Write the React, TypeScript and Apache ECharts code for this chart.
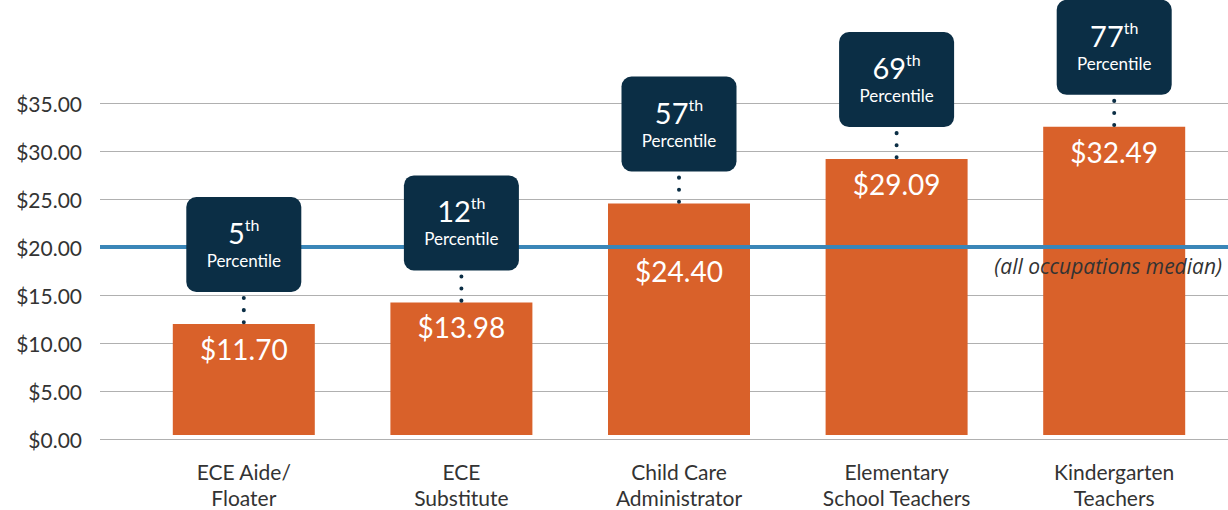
import React, { useEffect, useRef } from "react";
import * as echarts from "echarts";

const categories = [
  "ECE Aide/\nFloater",
  "ECE\nSubstitute",
  "Child Care\nAdministrator",
  "Elementary\nSchool Teachers",
  "Kindergarten\nTeachers",
];
const wages = [11.7, 13.98, 24.4, 29.09, 32.49];
const percentiles = ["5", "12", "57", "69", "77"];
const medianWage = 20;
const yTicks = { min: 0, max: 35, interval: 5 };

const FONT = "Lato, 'Open Sans', sans-serif";
const NAVY = "#0b2e45";
const ORANGE = "#d9612a";
const BLUE = "#3a86b8";
const TEXT = "#333333";

const GRID_TOP = 103;
const GRID_BOTTOM = 71;
const CHART_H = 510;
const PX_PER_UNIT = (CHART_H - GRID_TOP - GRID_BOTTOM) / (yTicks.max - yTicks.min);

export default function App() {
  const ref = useRef<HTMLDivElement>(null);
  useEffect(() => {
    if (!ref.current) return;
    const chart = echarts.init(ref.current, undefined, { renderer: "svg" });
    const BOX_W = 115;
    const BOX_H = 95;
    const GAP = 32;
    const barData = wages.map((w) => {
      const aboveMedianPx = (w - medianWage) * PX_PER_UNIT;
      // push label below the median line when it would overlap it
      if (w > medianWage && aboveMedianPx < 55) {
        return { value: w, label: { offset: [0, aboveMedianPx] } };
      }
      return { value: w };
    });
    chart.setOption({
      animation: false,
      textStyle: { fontFamily: FONT },
      grid: [
        { left: 100, right: 0, top: GRID_TOP, bottom: GRID_BOTTOM },
        { left: 135, right: 5, top: GRID_TOP, bottom: GRID_BOTTOM },
      ],
      xAxis: [
        { type: "value", gridIndex: 0, show: false, min: 0, max: 1 },
        {
          type: "category",
          gridIndex: 1,
          data: categories,
          axisLine: { show: false },
          axisTick: { show: false },
          axisLabel: {
            color: TEXT,
            fontSize: 21,
            lineHeight: 26,
            margin: 23,
            fontFamily: FONT,
          },
        },
      ],
      yAxis: [
        {
          type: "value",
          gridIndex: 0,
          min: yTicks.min,
          max: yTicks.max,
          interval: yTicks.interval,
          axisLine: { show: false },
          axisTick: { show: false },
          axisLabel: {
            color: TEXT,
            fontSize: 21,
            margin: 18,
            fontFamily: FONT,
            formatter: (v: number) => "$" + v.toFixed(2),
          },
          splitLine: { lineStyle: { color: "#b0b0b0", width: 1 } },
        },
        {
          type: "value",
          gridIndex: 1,
          min: yTicks.min,
          max: yTicks.max,
          interval: yTicks.interval,
          show: false,
        },
      ],
      series: [
        {
          type: "bar",
          xAxisIndex: 1,
          yAxisIndex: 1,
          data: barData,
          barWidth: 142,
          itemStyle: { color: ORANGE },
          label: {
            show: true,
            position: "insideTop",
            distance: 11,
            color: "#ffffff",
            fontSize: 28,
            fontFamily: FONT,
            formatter: (p: any) => "$" + Number(p.value).toFixed(2),
          },
          z: 2,
        },
        {
          type: "line",
          xAxisIndex: 0,
          yAxisIndex: 0,
          data: [],
          z: 3,
          markLine: {
            silent: true,
            symbol: ["none", "none"],
            lineStyle: { color: BLUE, width: 4, type: "solid" },
            label: {
              show: true,
              position: "insideEndBottom",
              distance: [6, 8],
              formatter: "(all occupations median)",
              color: TEXT,
              fontSize: 21,
              fontStyle: "italic",
              fontFamily: "'Open Sans', sans-serif",
            },
            data: [{ yAxis: medianWage }],
          },
        },
        {
          type: "custom",
          xAxisIndex: 1,
          yAxisIndex: 1,
          z: 5,
          clip: false,
          data: wages.map((w, i) => [i, w]),
          renderItem: (params: any, api: any) => {
            const i = api.value(0);
            const v = api.value(1);
            const pt = api.coord([i, v]);
            const cx = pt[0];
            const barTop = pt[1];
            const boxBottom = barTop - GAP;
            const boxTop = boxBottom - BOX_H;
            return {
              type: "group",
              children: [
                {
                  type: "line",
                  shape: { x1: cx, y1: boxBottom + 6, x2: cx, y2: barTop },
                  style: {
                    stroke: NAVY,
                    lineWidth: 4,
                    lineDash: [0.1, 12],
                    lineCap: "round",
                  },
                },
                {
                  type: "rect",
                  shape: {
                    x: cx - BOX_W / 2,
                    y: boxTop,
                    width: BOX_W,
                    height: BOX_H,
                    r: 10,
                  },
                  style: { fill: NAVY },
                },
                {
                  type: "text",
                  x: cx,
                  y: boxTop + BOX_H / 2,
                  style: {
                    text:
                      "{n|" + percentiles[params.dataIndex] + "}{s|th}\n{p|Percentile}",
                    align: "center",
                    verticalAlign: "middle",
                    fill: "#ffffff",
                    fontFamily: FONT,
                    rich: {
                      n: {
                        fontSize: 29,
                        lineHeight: 32,
                        fill: "#ffffff",
                        fontFamily: FONT,
                      },
                      s: {
                        fontSize: 16,
                        lineHeight: 32,
                        verticalAlign: "top",
                        fill: "#ffffff",
                        fontFamily: FONT,
                      },
                      p: {
                        fontSize: 17,
                        lineHeight: 24,
                        fill: "#ffffff",
                        fontFamily: FONT,
                      },
                    },
                  },
                },
              ],
            };
          },
        },
      ],
    });
    return () => chart.dispose();
  }, []);
  return (
    <div
      ref={ref}
      style={{ position: "absolute", left: 0, top: 0, width: 1228, height: 510 }}
    />
  );
}
